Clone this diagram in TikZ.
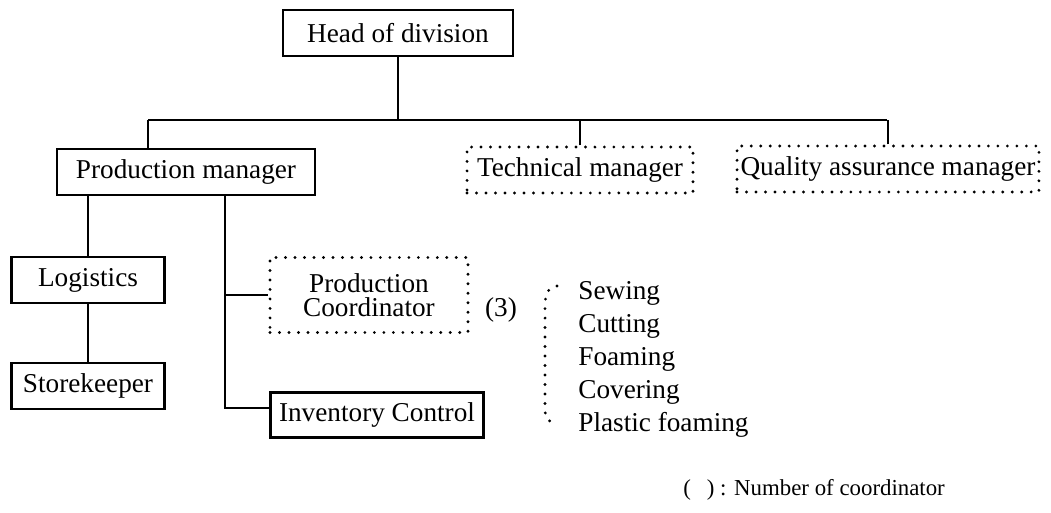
\documentclass[tikz,border=0pt]{standalone}
\usepackage{fontspec}
\setmainfont{Liberation Serif}
\usepackage{tikz}
\usetikzlibrary{positioning,calc}

\begin{document}
\begin{tikzpicture}[x=0.02cm,y=-0.02cm,
    font=\fontsize{15.5}{17}\selectfont,
    solidbox/.style={draw,line width=1.2pt,minimum height=0.92cm,inner sep=2pt},
    dotbox/.style={draw,line width=1.8pt,line cap=round,dash pattern=on 0pt off 5.4pt,minimum height=0.92cm,inner sep=2pt},
    link/.style={line width=1.5pt}]
    \useasboundingbox (0,0) rectangle (1051,513);

    % Top of the chart
    \node[solidbox,minimum width=4.6cm] (head) at (398,33) {Head of division};
    \coordinate (busL) at (148,120);
    \coordinate (busR) at (887,120);

    % Managers
    \node[solidbox,minimum width=5.16cm] (pm) at (186,172) {Production manager};
    \node[dotbox,minimum width=4.52cm] (tech) at (580,170) {Technical manager};
    \node[dotbox,minimum width=6.0cm] (qa) at (888,169) {Quality assurance manager};

    \draw[link] (head.south) -- (head.south |- busL);
    \draw[link] (busL) -- (busR);
    \draw[link] (busL) -- (busL |- pm.north);
    \draw[link] (tech.north) -- (tech.north |- busL);
    \draw[link] (qa.north) -- (qa.north |- busL);

    % Below the production manager
    \node[solidbox,minimum width=3.06cm] (log) at (88,280) {Logistics};
    \node[solidbox,minimum width=3.06cm] (store) at (88,386) {Storekeeper};
    \node[dotbox,minimum width=3.96cm,minimum height=1.5cm,align=center] (coord) at (369,295) {Production\\[-3pt]Coordinator};
    \node[solidbox,minimum width=4.26cm,minimum height=0.9cm] (inv) at (377,415) {Inventory Control};
    \node (count) at (501,310) {(3)};

    \draw[link] (log.north) -- (log.north |- pm.south);
    \draw[link] (log.south) -- (store.north);
    \coordinate (trunk) at (225,408);
    \draw[link] (trunk |- pm.south) -- (trunk) -- (inv.west |- trunk);
    \draw[link] (trunk |- coord.west) -- (coord.west);

    % Sections under the coordinators
    \foreach \sect [count=\i] in {Sewing,Cutting,Foaming,Covering,Plastic foaming}
        \node[anchor=west,inner sep=0pt] (sect\i) at (578,{293+33*(\i-1)}) {\sect};
    \draw[line width=1.8pt,line cap=round,dash pattern=on 0pt off 5.4pt]
        (557,286) .. controls (547,290) .. (545,302) -- (545,410) .. controls (546,420) .. (557,424);

    % Legend
    \node[anchor=west,inner sep=0pt,font=\fontsize{13}{15}\selectfont] (legend) at (683,490) {(\hspace{0.7em}) : Number of coordinator};
\end{tikzpicture}
\end{document}
